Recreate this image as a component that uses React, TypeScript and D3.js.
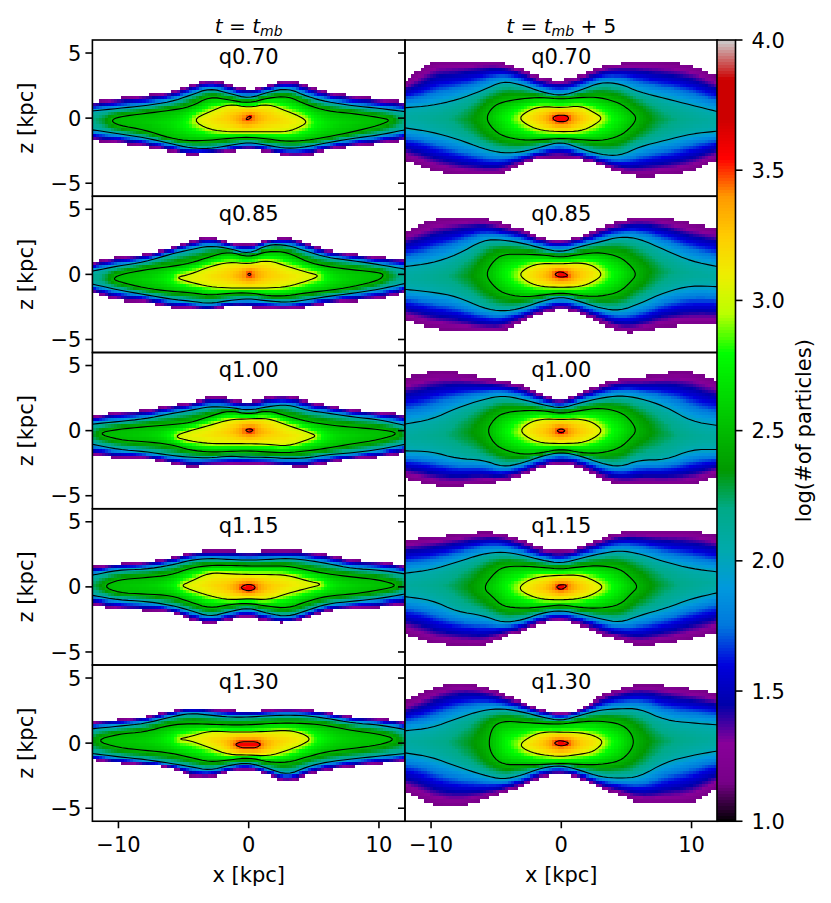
import React, { useMemo } from 'react';
import * as d3 from 'd3';

type Band = number[][]; // [upper z, lower z] over xKnots
type Loop = number[][]; // [x, upper z, lower z]

const rowLabels = ['q0.70', 'q0.85', 'q1.00', 'q1.15', 'q1.30'];
const xTicks = [-10, 0, 10];
const zTicks = [-5, 0, 5];
const barTicks = [1, 1.5, 2, 2.5, 3, 3.5, 4];
const isoLevels = [1.15, 2, 2.5, 3, 3.5];
const levelGamma = [1, 0.75, 1, 0.75];
const xKnots = [-12, -10, -8, -6, -4.5, -3, -1.5, 0, 1.5, 3, 4.5, 6, 8, 10, 12];

// nipy_spectral stops
const cmapStops = d3.range(0, 1.0001, 0.05);
const cmapRed = [0, .4667, .5333, 0, 0, 0, 0, 0, 0, 0, 0, 0, 0, .7333, .9333, 1, 1, 1, .8, .8, .8];
const cmapGreen = [0, 0, 0, 0, 0, .4667, .6, .6667, .6667, .6, .7333, .8667, 1, 1, .9333, .8, .6, 0, 0, 0, .8];
const cmapBlue = [0, .5333, .6, .6667, .8667, .8667, .8667, .6667, .5333, 0, 0, 0, 0, 0, 0, 0, 0, 0, 0, 0, .8];

// t = t_mb column
const a070Edge: Band = [
  [1.25, 1.55, 1.75, 2, 2.55, 3.05, 2.6, 2.15, 2.55, 3, 2.55, 2, 1.7, 1.5, 1.25],
  [-1.75, -1.95, -2.2, -2.55, -2.85, -2.65, -2.6, -2.35, -2.6, -2.9, -2.9, -2.45, -2.2, -2, -1.75],
];
const a070C20: Band = [
  [.55, .75, .95, 1.25, 1.75, 2.3, 1.9, 1.5, 2, 2.3, 1.65, 1.25, .95, .75, .5],
  [-.9, -1.2, -1.5, -1.95, -2.3, -2.35, -2.1, -1.85, -2.1, -2.35, -2.2, -1.9, -1.55, -1.3, -.9],
];
const a070C25: Loop = [
  [-10.6, -10, -8, -6, -4.5, -3, -1.5, 0, 1.5, 3, 4.5, 6, 8, 10, 10.95],
  [-.2, .1, .35, .6, .85, 1.65, 1.4, 1.15, 1.55, 1.7, 1, .55, .35, .05, -.15],
  [-.2, -.55, -.9, -1.55, -1.75, -1.7, -1.55, -1.45, -1.6, -1.8, -1.7, -1.45, -1.05, -.55, -.15],
];
const a070C30: Loop = [
  [-4.35, -3, -1.5, 0, 1.5, 3, 4, 4.5],
  [-.15, .5, 1.1, .8, 1.1, .5, .1, -.3],
  [-.15, -.9, -1.05, -1.05, -1.05, -1.05, -.65, -.3],
];
const a070C35: Loop = [[-.25, 0, .25], [-.1, .15, .1], [-.1, -.1, .1]];

const a085Edge: Band = [
  [.95, 1.4, 1.55, 2.05, 2.5, 3, 2.4, 2.25, 2.65, 2.9, 2.4, 1.85, 1.6, 1.35, 1.25],
  [-1.45, -2.05, -2.1, -2.55, -2.6, -2.75, -2.4, -2.5, -2.6, -2.65, -2.5, -2.25, -2.05, -1.95, -1.45],
];
const a085C20: Band = [
  [.25, .65, .95, 1.55, 1.9, 2.2, 2, 1.55, 2.3, 2.25, 1.75, 1.3, 1.05, .75, .4],
  [-.75, -1.2, -1.55, -1.9, -2.05, -2.25, -2, -1.85, -2.05, -2.15, -1.95, -1.7, -1.45, -1.15, -.7],
];
const a085C25: Loop = [
  [-10.4, -10, -8, -6, -4.5, -3, -1.5, 0, 1.5, 3, 4.5, 6, 8, 10, 10.4],
  [-.35, -.05, .35, .6, .85, 1.35, 1.75, 1.3, 1.8, 1.7, .95, .6, .35, .15, -.05],
  [-.35, -.55, -1.05, -1.3, -1.4, -1.6, -1.45, -1.4, -1.65, -1.65, -1.4, -1.25, -.95, -.45, -.05],
];
const a085C30: Loop = [
  [-5.65, -4.5, -3, -1.5, 0, 1.5, 3, 4.5, 5.5],
  [-.25, 0, .6, .95, .8, 1.1, .6, .15, -.1],
  [-.25, -.6, -.95, -1.05, -1.05, -1.05, -.95, -.5, -.1],
];
const a085C35: Loop = [[-.1, .05, .2], [0, .1, 0], [0, -.1, 0]];

const a100Edge: Band = [
  [1.1, 1.5, 1.55, 2, 2.15, 2.65, 2.5, 2.15, 2.65, 2.75, 2.3, 2, 1.6, 1.45, 1.25],
  [-1.9, -2.1, -2.1, -2.5, -2.85, -2.65, -2.65, -2.55, -2.65, -2.75, -2.8, -2.5, -2.15, -2.05, -1.7],
];
const a100C20: Band = [
  [.5, .7, .9, 1.3, 1.55, 1.85, 1.8, 1.55, 1.85, 2, 1.55, 1.35, 1.05, .85, .4],
  [-1.05, -1.45, -1.6, -1.9, -2.05, -2.1, -1.95, -2.05, -2.05, -2.15, -2.1, -1.85, -1.7, -1.45, -1.05],
];
const a100C25: Loop = [
  [-11.65, -10, -8, -6, -4.5, -3, -1.5, 0, 1.5, 3, 4.5, 6, 8, 10, 11.65],
  [-.2, .1, .3, .45, .6, 1.1, 1.55, 1.25, 1.55, 1.1, .7, .45, .25, .1, -.2],
  [-.2, -.7, -.85, -1.05, -1.5, -1.65, -1.6, -1.55, -1.65, -1.7, -1.55, -1.35, -1, -.7, -.2],
];
const a100C30: Loop = [
  [-5.8, -4.5, -3, -1.5, 0, 1.5, 3, 4.5, 5.25],
  [-.45, 0, .4, .85, .9, .95, .4, -.1, -.4],
  [-.45, -.8, -1, -1, -1, -1.05, -1.2, -.7, -.4],
];
const a100C35: Loop = [[-.3, .05, .4], [.05, .15, .05], [.05, -.15, .05]];

const a115Edge: Band = [
  [1.55, 1.8, 1.9, 2.25, 2.7, 2.8, 2.8, 2.7, 2.8, 2.8, 2.75, 2.55, 2.05, 2, 1.65],
  [-1.35, -1.75, -1.8, -1.9, -2.55, -2.95, -2.55, -2.3, -2.7, -2.8, -2.45, -1.8, -1.65, -1.6, -1.35],
];
const a115C20: Band = [
  [.9, 1.3, 1.35, 1.65, 2.05, 2.2, 2.1, 2.05, 2.1, 2.2, 2.05, 1.8, 1.4, 1.3, 1],
  [-.65, -1, -1.1, -1.4, -1.8, -2.3, -1.9, -1.6, -2.05, -2.3, -1.8, -1.3, -1.1, -.9, -.55],
];
const a115C25: Loop = [
  [-11.2, -10, -8, -6, -4.5, -3, -1.5, 0, 1.5, 3, 4.5, 6, 8, 10, 11.55],
  [.05, .55, .7, .9, 1.45, 1.65, 1.65, 1.6, 1.6, 1.6, 1.3, 1, .75, .55, .1],
  [.05, -.45, -.55, -.65, -1.15, -1.65, -1.35, -1.25, -1.5, -1.65, -1.1, -.7, -.55, -.25, .1],
];
const a115C30: Loop = [
  [-5.2, -4.5, -3, -1.5, 0, 1.5, 3, 4.5, 5.75],
  [.1, .4, 1.1, 1, .95, .95, .9, .45, .2],
  [.1, -.2, -.7, -1, -.9, -1, -.5, -.1, .2],
];
const a115C35: Loop = [[-.65, -.3, 0, .3, .55], [-.05, .15, .2, .15, -.05], [-.05, -.25, -.3, -.25, -.05]];

const a130Edge: Band = [
  [1.65, 1.8, 2, 2.5, 2.8, 2.65, 2.6, 2.4, 2.6, 2.65, 2.6, 2.4, 2, 1.9, 1.65],
  [-1.3, -1.55, -1.7, -1.85, -2.6, -2.7, -2.2, -2, -2.45, -3.05, -2.45, -2.1, -1.8, -1.6, -1.4],
];
const a130C20: Band = [
  [1.1, 1.3, 1.5, 2, 2.3, 2.15, 2, 2, 2.1, 2.15, 2.1, 1.9, 1.55, 1.4, 1.05],
  [-.8, -1.05, -1.25, -1.55, -1.8, -2.1, -1.7, -1.5, -1.95, -2.45, -1.8, -1.45, -1.2, -1, -.8],
];
const a130C25: Loop = [
  [-11.8, -10, -8, -6, -4.5, -3, -1.5, 0, 1.5, 3, 4.5, 6, 8, 10, 11.35],
  [.2, .7, .85, 1.4, 1.5, 1.45, 1.4, 1.4, 1.5, 1.55, 1.5, 1.35, .95, .7, .3],
  [.2, -.35, -.55, -.75, -1.1, -1.45, -1.3, -1.1, -1.45, -1.5, -1.05, -.65, -.4, -.15, .3],
];
const a130C30: Loop = [
  [-5.45, -4.5, -3, -1.5, 0, 1.5, 3, 4.25, 4.75],
  [.3, .5, .95, .85, .85, .9, 1, .7, .3],
  [.3, .2, -.35, -.9, -.9, -1, -.55, -.05, .3],
];
const a130C35: Loop = [[-1.1, -.6, 0, .6, .95], [-.1, .1, .1, .1, -.1], [-.1, -.35, -.35, -.35, -.1]];

// t = t_mb + 5 column
const b070Edge: Band = [
  [2.9, 4.4, 4.4, 4.4, 4.3, 3.8, 3.1, 2.9, 3.3, 3.95, 4.2, 4.35, 4.3, 4.1, 3.2],
  [-3.2, -4, -4.4, -4.45, -4.35, -3.5, -3.05, -3, -3.15, -3.6, -4.25, -4.5, -4.4, -4.1, -3.2],
];
const b070C20: Band = [
  [.8, .95, 1.4, 2.15, 2.85, 2.55, 2, 1.7, 2.15, 2.75, 2.65, 2, 1.5, 1, .5],
  [-.75, -1.05, -1.6, -2.35, -2.7, -2.6, -2.2, -1.8, -2.35, -2.8, -2.9, -2.2, -1.7, -1.2, -1],
];
const b070C25: Loop = [
  [-5.8, -5.3, -4.5, -3, -1.5, 0, 1.5, 3, 4.5, 5.4, 5.8],
  [0, .85, 1.25, 1.5, 1.6, 1.45, 1.6, 1.6, 1.15, .5, 0],
  [0, -.8, -1.4, -1.7, -1.65, -1.55, -1.65, -1.75, -1.4, -.65, 0],
];
const b070C30: Loop = [
  [-3.3, -2.5, -1.5, 0, 1.5, 2.5, 3.2],
  [0, .6, .9, .8, .95, .45, 0],
  [0, -.6, -.95, -1.05, -1, -.55, 0],
];
const b070C35: Loop = [[-.7, -.4, 0, .4, .6], [0, .2, .23, .2, 0], [0, -.25, -.28, -.25, 0]];

const b085Edge: Band = [
  [3.3, 4.2, 4.35, 4.35, 3.9, 3.55, 2.75, 2.65, 2.9, 3.65, 4.1, 4.45, 4.35, 3.9, 3.55],
  [-3.5, -4.15, -4.3, -4.45, -4.4, -3.65, -3, -2.65, -3, -3.75, -4.45, -4.45, -4, -3.9, -3.9],
];
const b085C20: Band = [
  [.6, .85, 1.5, 2.65, 2.65, 2.4, 2, 1.7, 2.15, 2.5, 2.9, 2.75, 1.85, 1, .6],
  [-1.15, -1.35, -1.7, -2.6, -2.85, -2.6, -2.05, -1.7, -2.1, -2.6, -2.8, -2.25, -1.35, -.85, -.95],
];
const b085C25: Loop = [
  [-5.8, -5.3, -4.5, -3, -1.5, 0, 1.5, 3, 4.5, 5.3, 5.8],
  [0, .95, 1.55, 1.55, 1.5, 1.3, 1.55, 1.7, 1.35, .7, 0],
  [0, -.8, -1.45, -1.75, -1.6, -1.4, -1.65, -1.7, -1.35, -.6, 0],
];
const b085C30: Loop = [
  [-3.3, -2.5, -1.5, 0, 1.5, 2.5, 3.2],
  [0, .6, .85, .8, .9, .65, 0],
  [0, -.65, -.95, -1, -.95, -.55, 0],
];
const b085C35: Loop = [[-.55, -.2, .2, .55], [0, .2, .15, -.1], [0, -.2, -.2, -.1]];

const b100Edge: Band = [
  [4.05, 4.55, 4.5, 4.1, 3.85, 3.55, 2.75, 2.3, 2.9, 3.6, 4.05, 4.1, 4.45, 4.55, 3.9],
  [-3.65, -4.2, -4.3, -4, -3.95, -3.5, -2.85, -2.5, -2.85, -3.75, -4.1, -4.1, -4.15, -4.2, -3.5],
];
const b100C20: Band = [
  [.5, .85, 1.75, 2.4, 2.7, 2.4, 2, 1.7, 2.15, 2.5, 2.7, 2.5, 1.85, .7, .4],
  [-1.55, -1.6, -2.15, -2.25, -2.8, -2.5, -1.95, -1.65, -1.95, -2.5, -2.8, -2.25, -2.25, -1.45, -1.45],
];
const b100C25: Loop = [
  [-5.7, -5.2, -4.5, -3, -1.5, 0, 1.5, 3, 4.5, 5.3, 5.8],
  [0, .85, 1.35, 1.55, 1.55, 1.3, 1.55, 1.75, 1.45, .85, 0],
  [0, -.95, -1.45, -1.85, -1.7, -1.4, -1.7, -1.75, -1.35, -.6, 0],
];
const b100C30: Loop = [
  [-3.2, -2.5, -1.5, 0, 1.5, 2.5, 3.2],
  [0, .6, .9, .85, .9, .6, 0],
  [0, -.6, -.95, -1, -.95, -.6, 0],
];
const b100C35: Loop = [[-.4, 0, .35], [0, .15, 0], [0, -.2, 0]];

const b115Edge: Band = [
  [3.6, 3.85, 4.05, 4.25, 4.15, 3.6, 2.95, 2.7, 3.1, 3.7, 4.25, 4.3, 4.3, 4.4, 3.95],
  [-3.6, -4.35, -4.5, -4.6, -3.85, -3.45, -2.8, -2.6, -2.95, -3.7, -4.1, -4.6, -4.35, -4, -3.45],
];
const b115C20: Band = [
  [1.05, 1.3, 1.9, 2.55, 2.7, 2.45, 2.05, 1.8, 2.2, 2.55, 2.8, 2.55, 1.9, 1.4, 1.15],
  [-.75, -1, -1.9, -2.2, -2.75, -2.55, -2, -1.8, -2.1, -2.45, -2.75, -2.2, -1.65, -.9, -.45],
];
const b115C25: Loop = [
  [-6, -5.3, -4.5, -3, -1.5, 0, 1.5, 3, 4.5, 5.4, 5.9],
  [-.1, .9, 1.55, 1.6, 1.5, 1.35, 1.55, 1.65, 1.4, .65, 0],
  [-.1, -.75, -1.5, -1.65, -1.55, -1.35, -1.6, -1.65, -1.4, -.5, 0],
];
const b115C30: Loop = [
  [-3.35, -2.5, -1.5, 0, 1.5, 2.5, 3.3],
  [-.1, .55, .8, .9, .9, .5, 0],
  [-.1, -.65, -.95, -1, -.9, -.55, 0],
];
const b115C35: Loop = [[-.45, 0, .5], [0, .2, .1], [0, -.25, -.2]];

const b130Edge: Band = [
  [3.2, 4.2, 4.7, 4.4, 3.8, 3.2, 2.55, 2.3, 2.55, 3.7, 4.2, 4.55, 4.45, 4.2, 3.8],
  [-3.75, -4.75, -4.9, -4.4, -3.85, -3.35, -2.6, -2.4, -2.7, -3.5, -4, -4.65, -4.65, -4.65, -3.5],
];
const b130C20: Band = [
  [.95, 1.15, 1.9, 2.55, 2.65, 2.4, 2, 1.7, 2.15, 2.55, 2.65, 2.65, 1.75, 1.55, 1.4],
  [-.75, -1.05, -1.8, -2.45, -2.8, -2.45, -1.9, -1.7, -2.1, -2.6, -2.7, -2.6, -1.45, -.95, -.6],
];
const b130C25: Loop = [
  [-5.6, -5.3, -4.5, -3, -1.5, 0, 1.5, 3, 4.5, 5.3, 5.6],
  [0, 1.25, 1.7, 1.6, 1.5, 1.45, 1.65, 1.7, 1.5, .9, .1],
  [0, -1, -1.65, -1.65, -1.65, -1.55, -1.65, -1.65, -1.4, -.65, .1],
];
const b130C30: Loop = [
  [-3.25, -2.5, -1.5, 0, 1.5, 2.5, 3.3],
  [-.15, .45, .85, .85, .8, .6, .1],
  [-.15, -.65, -.9, -1.05, -.85, -.65, .1],
];
const b130C35: Loop = [[-.6, -.2, .2, .65], [0, .2, .15, 0], [0, -.2, -.2, 0]];

const startColumn: [Band, Band, Loop, Loop, Loop][] = [
  [a070Edge, a070C20, a070C25, a070C30, a070C35],
  [a085Edge, a085C20, a085C25, a085C30, a085C35],
  [a100Edge, a100C20, a100C25, a100C30, a100C35],
  [a115Edge, a115C20, a115C25, a115C30, a115C35],
  [a130Edge, a130C20, a130C25, a130C30, a130C35],
];
const laterColumn: [Band, Band, Loop, Loop, Loop][] = [
  [b070Edge, b070C20, b070C25, b070C30, b070C35],
  [b085Edge, b085C20, b085C25, b085C30, b085C35],
  [b100Edge, b100C20, b100C25, b100C30, b100C35],
  [b115Edge, b115C20, b115C25, b115C30, b115C35],
  [b130Edge, b130C20, b130C25, b130C30, b130C35],
];

const FONT = '"DejaVu Sans", sans-serif';
const FONT_SIZE = 21;
const PANEL_W = 312.6;
const PANEL_H = 156.25;
const LEFT = 92.4;
const TOP = 40;
const BIN = 0.24;
const BAR_X = 717;
const BAR_W = 18.5;

type Pt = [number, number];
type Shape = { polygon: Pt[]; lines: Pt[][]; closed: boolean };

const colormap = d3.scaleLinear<string>()
  .domain(cmapStops)
  .range(cmapRed.map((r, i) => d3.rgb(r * 255, cmapGreen[i] * 255, cmapBlue[i] * 255).formatRgb()))
  .clamp(true);
const colorOf = (v: number) => colormap((v - 1) / 3);

// rounds the corners left by the coarse reading
const cutCorners = (pts: Pt[], closed: boolean) => {
  const out: Pt[] = closed ? [] : [pts[0]];
  const n = pts.length;
  for (let i = 0; i < (closed ? n : n - 1); i++) {
    const a = pts[i];
    const b = pts[(i + 1) % n];
    out.push([a[0] * .75 + b[0] * .25, a[1] * .75 + b[1] * .25]);
    out.push([a[0] * .25 + b[0] * .75, a[1] * .25 + b[1] * .75]);
  }
  if (!closed) out.push(pts[n - 1]);
  return out;
};
const smooth = (pts: Pt[], closed: boolean) => cutCorners(cutCorners(pts, closed), closed);

const bandShape = (band: Band): Shape => {
  const upper = smooth(xKnots.map((x, i) => [x, band[0][i]] as Pt), false);
  const lower = smooth(xKnots.map((x, i) => [x, band[1][i]] as Pt), false);
  return { polygon: [...upper, ...[...lower].reverse()], lines: [upper, lower], closed: false };
};
const loopShape = (loop: Loop): Shape => {
  const n = loop[0].length;
  const upper = loop[0].map((x, i) => [x, loop[1][i]] as Pt);
  const lower = loop[0].map((x, i) => [x, loop[2][i]] as Pt).slice(1, n - 1).reverse();
  const ring = smooth([...upper, ...lower], true);
  return { polygon: ring, lines: [[...ring, ring[0]]], closed: true };
};

const segDist = (p: Pt, a: Pt, b: Pt) => {
  const dx = b[0] - a[0];
  const dy = b[1] - a[1];
  const len = dx * dx + dy * dy;
  const t = len === 0 ? 0 : Math.max(0, Math.min(1, ((p[0] - a[0]) * dx + (p[1] - a[1]) * dy) / len));
  return Math.hypot(p[0] - a[0] - t * dx, p[1] - a[1] - t * dy);
};
const lineDist = (p: Pt, lines: Pt[][]) => {
  let best = Infinity;
  lines.forEach(line => {
    for (let i = 1; i < line.length; i++) best = Math.min(best, segDist(p, line[i - 1], line[i]));
  });
  return best;
};

// log count of a cell, placed between the two read iso-levels around it
const cellValue = (p: Pt, shapes: Shape[]) => {
  if (!d3.polygonContains(shapes[0].polygon, p)) return null;
  let level = 0;
  for (let i = shapes.length - 1; i > 0; i--) {
    if (d3.polygonContains(shapes[i].polygon, p)) { level = i; break; }
  }
  if (level === shapes.length - 1) return isoLevels[level] + 0.08;
  const d0 = lineDist(p, shapes[level].lines);
  const d1 = lineDist(p, shapes[level + 1].lines);
  const t = Math.pow(d0 / (d0 + d1), levelGamma[level]);
  return isoLevels[level] + (isoLevels[level + 1] - isoLevels[level]) * t;
};

const Panel: React.FC<{ read: [Band, Band, Loop, Loop, Loop]; label: string; left: number; top: number; bottomRow: boolean; leftCol: boolean }> = ({ read, label, left, top, bottomRow, leftCol }) => {
  const x = d3.scaleLinear().domain([-12, 12]).range([left, left + PANEL_W]);
  const z = d3.scaleLinear().domain([-6, 6]).range([top + PANEL_H, top]);
  const line = d3.line<Pt>().x(d => x(d[0])).y(d => z(d[1]));

  const shapes = useMemo(() => [
    bandShape(read[0]), bandShape(read[1]), loopShape(read[2]), loopShape(read[3]), loopShape(read[4]),
  ], [read]);

  const cells = useMemo(() => {
    const bins = new Map<number, string>();
    const w = x(BIN) - x(0);
    const h = z(0) - z(BIN);
    d3.range(0, 100).forEach(i => {
      d3.range(0, 50).forEach(j => {
        const cx = -12 + (i + 0.5) * BIN;
        const cz = -6 + (j + 0.5) * BIN;
        const v = cellValue([cx, cz], shapes);
        if (v === null) return;
        const key = Math.round(v * 100);
        const rect = `M${x(cx - BIN / 2).toFixed(2)} ${z(cz + BIN / 2).toFixed(2)}h${w.toFixed(2)}v${h.toFixed(2)}h${(-w).toFixed(2)}z`;
        bins.set(key, (bins.get(key) || '') + rect);
      });
    });
    return Array.from(bins.entries());
  }, [shapes]);

  const clipId = `clip-${Math.round(left)}-${Math.round(top)}`;

  return (
    <g>
      <clipPath id={clipId}><rect x={left} y={top} width={PANEL_W} height={PANEL_H} /></clipPath>
      <g clipPath={`url(#${clipId})`}>
        <g shapeRendering="crispEdges">
          {cells.map(([key, d]) => <path key={key} d={d} fill={colorOf(key / 100)} />)}
        </g>
        {shapes.slice(1).map((s, i) => s.lines.map((l, k) => (
          <path key={`${i}-${k}`} d={line(l) || ''} fill="none" stroke="#000" strokeWidth={1.1} strokeLinejoin="round" />
        )))}
      </g>
      <rect x={left} y={top} width={PANEL_W} height={PANEL_H} fill="none" stroke="#000" strokeWidth={1.6} />
      {zTicks.map(t => (
        <g key={t}>
          <line x1={left - 7} x2={left} y1={z(t)} y2={z(t)} stroke="#000" strokeWidth={1.6} />
          {leftCol && (
            <text x={left - 11} y={z(t) + 7.6} textAnchor="end" fontSize={FONT_SIZE}>{String(t).replace('-', '\u2212')}</text>
          )}
        </g>
      ))}
      {bottomRow && xTicks.map(t => (
        <g key={t}>
          <line x1={x(t)} x2={x(t)} y1={top + PANEL_H} y2={top + PANEL_H + 7} stroke="#000" strokeWidth={1.6} />
          <text x={x(t)} y={top + PANEL_H + 31} textAnchor="middle" fontSize={FONT_SIZE}>{String(t).replace('-', '\u2212')}</text>
        </g>
      ))}
      <text x={x(0)} y={top + 24.3} textAnchor="middle" fontSize={FONT_SIZE}>{label}</text>
      {leftCol && (
        <text transform={`translate(33,${z(0)}) rotate(-90)`} textAnchor="middle" fontSize={FONT_SIZE}>z [kpc]</text>
      )}
      {bottomRow && (
        <text x={x(0)} y={top + PANEL_H + 61} textAnchor="middle" fontSize={FONT_SIZE}>x [kpc]</text>
      )}
    </g>
  );
};

const App: React.FC = () => {
  const bar = d3.scaleLinear().domain([1, 4]).range([TOP + PANEL_H * 5, TOP]);
  const barSteps = d3.range(0, 256);
  return (
    <svg width={831} height={903} style={{ position: 'absolute', left: 0, top: 0 }} fontFamily={FONT} fill="#000">
      <rect width={831} height={903} fill="#fff" />
      {[startColumn, laterColumn].map((column, c) => column.map((read, r) => (
        <Panel
          key={`${c}-${r}`}
          read={read}
          label={rowLabels[r]}
          left={LEFT + c * PANEL_W}
          top={TOP + r * PANEL_H}
          bottomRow={r === 4}
          leftCol={c === 0}
        />
      )))}
      <text x={LEFT + PANEL_W / 2} y={33} textAnchor="middle" fontSize={20}>
        <tspan fontStyle="italic">t</tspan> = <tspan fontStyle="italic">t</tspan>
        <tspan fontStyle="italic" fontSize={14} dy={3}>mb</tspan>
      </text>
      <text x={LEFT + PANEL_W * 1.5} y={33} textAnchor="middle" fontSize={20}>
        <tspan fontStyle="italic">t</tspan> = <tspan fontStyle="italic">t</tspan>
        <tspan fontStyle="italic" fontSize={14} dy={3}>mb</tspan>
        <tspan dy={-3}> + 5</tspan>
      </text>
      <g shapeRendering="crispEdges">
        {barSteps.map(s => {
          const lo = 1 + 3 * s / 256;
          const hi = 1 + 3 * (s + 1) / 256;
          return <rect key={s} x={BAR_X} y={bar(hi)} width={BAR_W} height={bar(lo) - bar(hi) + 0.5} fill={colorOf((lo + hi) / 2)} />;
        })}
      </g>
      <rect x={BAR_X} y={TOP} width={BAR_W} height={PANEL_H * 5} fill="none" stroke="#000" strokeWidth={1.6} />
      {barTicks.map(t => (
        <g key={t}>
          <line x1={BAR_X + BAR_W} x2={BAR_X + BAR_W + 7} y1={bar(t)} y2={bar(t)} stroke="#000" strokeWidth={1.6} />
          <text x={BAR_X + BAR_W + 16} y={bar(t) + 7.6} fontSize={FONT_SIZE}>{d3.format('.1f')(t)}</text>
        </g>
      ))}
      <text transform={`translate(811,${bar(2.5)}) rotate(-90)`} textAnchor="middle" fontSize={FONT_SIZE}>log(#of particles)</text>
    </svg>
  );
};

export default App;
